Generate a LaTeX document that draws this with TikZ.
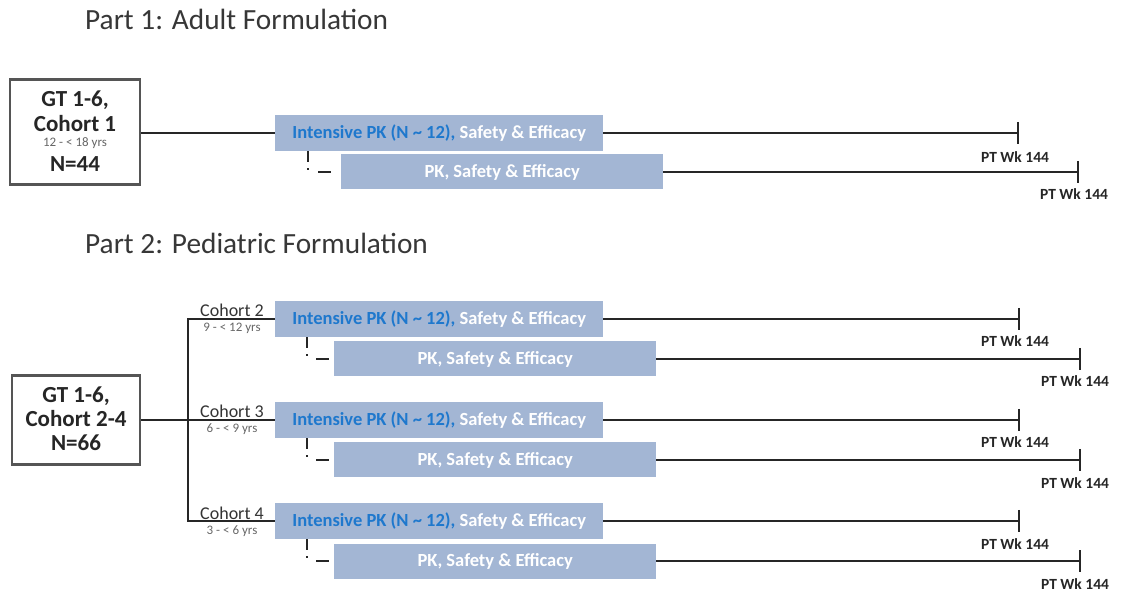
\documentclass[tikz,border=0pt]{standalone}
\usepackage{fontspec}
\setmainfont{Carlito}
\usetikzlibrary{arrows.meta}
\definecolor{boxblue}{RGB}{163,182,212}
\definecolor{kblue}{RGB}{30,120,205}
\definecolor{titlegray}{RGB}{55,55,55}
\definecolor{bordergray}{RGB}{85,85,85}
\begin{document}
\begin{tikzpicture}[x=1pt,y=-1pt,
  title/.style={anchor=base west,font=\fontsize{29.3}{32}\selectfont,text=titlegray,inner sep=0},
  gtbox/.style={draw=bordergray,line width=2.2pt,fill=white,inner sep=0},
  gttext/.style={font=\fontsize{23}{26}\selectfont\bfseries,text=black!85,inner sep=0},
  ibox/.style={fill=boxblue,minimum width=328,minimum height=36,anchor=west,inner sep=0,font=\fontsize{18.5}{20}\selectfont\bfseries},
  pbox/.style={fill=boxblue,minimum width=322,minimum height=35,anchor=west,inner sep=0,font=\fontsize{18.5}{20}\selectfont\bfseries,text=white},
  arm/.style={line width=2.8pt,black!85},
  endbar/.style={arm,-{Bar[width=22pt,line width=2.4pt]}},
  ptlabel/.style={font=\fontsize{15.5}{17}\selectfont\bfseries,text=black!85,inner sep=0},
  dlink/.style={line width=2.8pt,black!85,dash pattern=on 11pt off 6pt on 2pt off 12pt on 13pt off 10pt},
  cohort/.style={font=\fontsize{18}{20}\selectfont,text=black!80,inner sep=0,anchor=base},
  agelab/.style={font=\fontsize{13}{15}\selectfont,text=black!60,inner sep=0},
]
\useasboundingbox (0,0) rectangle (1136,593);
\newcommand{\itext}{\textcolor{kblue}{Intensive PK (N \textasciitilde{} 12),} \textcolor{white}{Safety \& Efficacy}}

% ---------- Part 1 ----------
\node[title] (t1) at (85,30) {Part 1: Adult Formulation};
\node[gtbox,minimum width=130,minimum height=105] (g1) at (75,132) {};
\node[gttext] (g1a) at (75,100) {GT 1-6,};
\node[gttext] (g1b) at (75,124) {Cohort 1};
\node[agelab] (g1c) at (75,143) {12 - < 18 yrs};
\node[gttext] (g1d) at (75,164) {N=44};

\node[ibox] (i1) at (275,133) {\itext};
\node[pbox] (p1) at (341,172) {PK, Safety \& Efficacy};
\coordinate (e1) at (1019,133);
\coordinate (f1) at (1079,172);
\draw[arm] (g1.east |- i1.west) -- (i1.west);
\draw[endbar] (i1.east) -- (e1);
\draw[endbar] (p1.east) -- (f1);
\node[ptlabel] (l1) at (1015,157) {PT Wk 144};
\node[ptlabel] (m1) at (1074,194) {PT Wk 144};
\draw[dlink] (i1.south west) ++(33,0) coordinate (d1) |- (p1.west);

% ---------- Part 2 ----------
\node[title] (t2) at (85,254) {Part 2: Pediatric Formulation};
\node[gtbox,minimum width=128,minimum height=89] (g2) at (76,420) {};
\node[gttext] (g2a) at (76,396) {GT 1-6,};
\node[gttext] (g2b) at (76,419) {Cohort 2-4};
\node[gttext] (g2c) at (76,443) {N=66};

\coordinate (v1) at (188,319);
\coordinate (v3) at (188,521);

% row 1
\node[ibox] (i2) at (275,319) {\itext};
\node[pbox] (p2) at (334,359) {PK, Safety \& Efficacy};
% row 2
\node[ibox] (i3) at (275,420) {\itext};
\node[pbox] (p3) at (334,460) {PK, Safety \& Efficacy};
% row 3
\node[ibox] (i4) at (275,521) {\itext};
\node[pbox] (p4) at (334,561) {PK, Safety \& Efficacy};

\draw[arm] (i2.west) -- (v1) -- (v3) -- (i4.west);
\draw[arm] (g2.east |- i3.west) -- (i3.west);

\node[cohort] (c2) at (232,317) {Cohort 2};
\node[agelab] (a2) at (232,328) {9 - < 12 yrs};
\node[cohort] (c3) at (232,418) {Cohort 3};
\node[agelab] (a3) at (232,429) {6 - < 9 yrs};
\node[cohort] (c4) at (232,519) {Cohort 4};
\node[agelab] (a4) at (232,531) {3 - < 6 yrs};

\coordinate (e2) at (1020,319);
\coordinate (f2) at (1081,359);
\coordinate (e3) at (1020,420);
\coordinate (f3) at (1081,460);
\coordinate (e4) at (1020,521);
\coordinate (f4) at (1081,561);
\draw[endbar] (i2.east) -- (e2);
\draw[endbar] (p2.east) -- (f2);
\draw[endbar] (i3.east) -- (e3);
\draw[endbar] (p3.east) -- (f3);
\draw[endbar] (i4.east) -- (e4);
\draw[endbar] (p4.east) -- (f4);

\node[ptlabel] (l2) at (1015,341) {PT Wk 144};
\node[ptlabel] (m2) at (1075,381) {PT Wk 144};
\node[ptlabel] (l3) at (1015,442) {PT Wk 144};
\node[ptlabel] (m3) at (1075,483) {PT Wk 144};
\node[ptlabel] (l4) at (1015,544) {PT Wk 144};
\node[ptlabel] (m4) at (1075,584) {PT Wk 144};

\draw[dlink] (i2.south west) ++(32,0) coordinate (d2) |- (p2.west);
\draw[dlink] (i3.south west) ++(32,0) coordinate (d3) |- (p3.west);
\draw[dlink] (i4.south west) ++(32,0) coordinate (d4) |- (p4.west);
\end{tikzpicture}
\end{document}
